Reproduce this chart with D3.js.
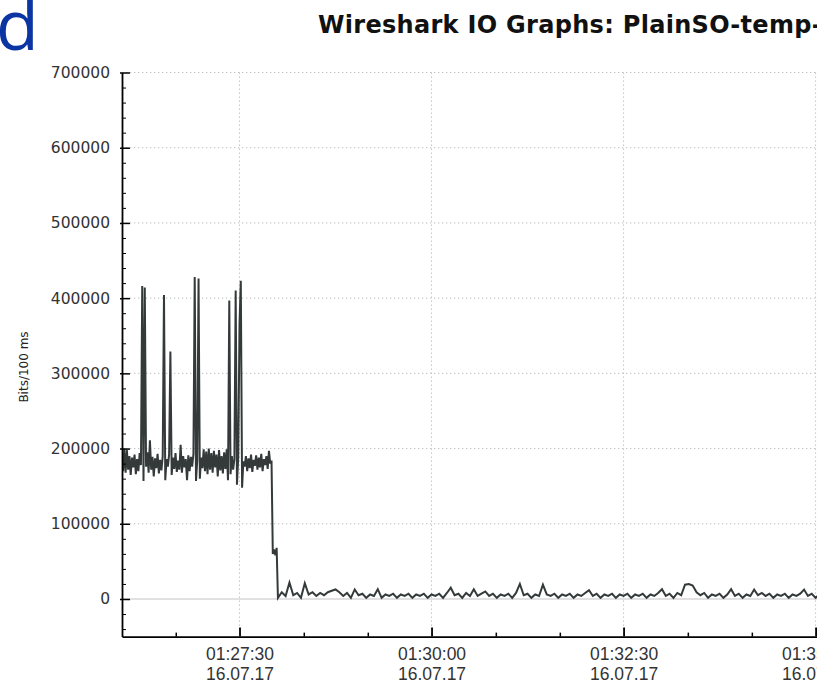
<!DOCTYPE html>
<html>
<head>
<meta charset="utf-8">
<script src="https://cdn.jsdelivr.net/npm/d3@7"></script>
<style>
  body { margin: 0; background: #fff; }
  svg { display: block; font-family: "DejaVu Sans", sans-serif; }
</style>
</head>
<body>
<div id="wrap"></div>
<script>
// values (bits per 100 ms)
const parseTime = d3.timeParse("%d.%m.%y %H:%M:%S");

// busy phase, one sample per second
const burstStart = "16.07.17 01:25:58";
const burstStep = 1;
const burstValues = [
  185000,170000,200000,168000,198000,172000,190000,165000,188000,175000,
  192000,166000,186000,170000,194000,178000,416000,157000,414000,176000,
  195000,168000,211000,172000,189000,163000,187000,174000,193000,167000,
  185000,171000,190000,404000,158000,186000,176000,192000,329000,165000,
  188000,173000,194000,169000,184000,172000,205000,168000,190000,175000,
  186000,158000,191000,170000,189000,176000,193000,428000,157000,185000,
  426000,160000,188000,174000,199000,170000,196000,166000,200000,172000,
  194000,168000,197000,175000,192000,163000,198000,171000,190000,167000,
  195000,173000,199000,158000,397000,166000,190000,172000,186000,410000,
  152000,188000,366000,423000,148000,183000,176000,190000,170000,187000,
  174000,192000,169000,185000,177000,191000,172000,188000,175000,193000,
  170000,186000,178000,190000,173000,197000,180000,184000,60000,66000,
  58000,68000
];

// idle phase, one sample every 3 seconds
const idleStart = "16.07.17 01:28:00";
const idleStep = 3;
const idleValues = [
  1500,9000,4000,22000,5000,8000,1500,21000,6000,9000,
  4000,8000,5000,9000,11000,12700,9000,4000,8000,1500,
  12700,5000,7000,1500,6000,4000,13000,1500,6000,4000,
  7000,1500,6000,4000,7000,1500,6000,4000,7000,1500,
  6000,4000,7000,1500,8000,15000,5000,7000,1500,8000,
  4000,13000,4000,7000,10000,4000,7000,1500,6000,4000,
  7000,1500,8000,20000,5000,7000,1500,6000,4000,19000,
  6000,4000,7000,1500,6000,4000,7000,1500,6000,4000,
  8000,11800,4000,7000,1500,6000,4000,7000,1500,6000,
  4000,7000,1500,6000,4000,7000,1500,6000,4000,8000,
  13000,4000,7000,1500,8000,5000,19000,20000,18000,9000,
  5000,8000,1500,6000,4000,7000,1500,6000,13000,4000,
  7000,1500,6000,4000,12500,5000,8000,4000,7000,1500,
  6000,4000,7000,1500,6000,4000,7000,12500,4000,7000,
  1500,6000,4000,8000,1500,6000,4000
];

const xTicks = ["16.07.17 01:27:30", "16.07.17 01:30:00", "16.07.17 01:32:30", "16.07.17 01:35:00"];
const yTicks = [0, 100000, 200000, 300000, 400000, 500000, 600000, 700000];
const yMinorStep = 20000;
const xMinorStep = 50; // seconds

const titleText = "Wireshark IO Graphs: PlainSO-temp-";
const yLabel = "Bits/100 ms";
const panelLetter = "d";

// build the series
function series(start, step, vals) {
  const t0 = parseTime(start).getTime();
  return vals.map((v, i) => ({ t: new Date(t0 + i * step * 1000), v: v }));
}
const data = series(burstStart, burstStep, burstValues)
  .concat(series(idleStart, idleStep, idleValues));

const W = 817, H = 683;
const plot = { left: 122, top: 72.5, bottom: 636.6, right: 854 };

const svg = d3.select("#wrap").append("svg")
  .attr("width", W)
  .attr("height", H);

const xStart = new Date(parseTime(burstStart).getTime() + 200);
const xEnd = parseTime("16.07.17 01:35:30");
const x = d3.scaleTime().domain([xStart, xEnd]).range([plot.left, plot.right]);
const y = d3.scaleLinear().domain([-50000, 700000]).range([plot.bottom, plot.top]);

// grid
const grid = svg.append("g");
grid.selectAll(".gy")
  .data(yTicks.filter(d => d !== 0))
  .enter().append("line")
  .attr("x1", plot.left).attr("x2", W)
  .attr("y1", d => y(d)).attr("y2", d => y(d))
  .attr("stroke", "#bdbdbd").attr("stroke-width", 1)
  .attr("stroke-dasharray", "1.3,2.7");
grid.selectAll(".gx")
  .data(xTicks.map(parseTime))
  .enter().append("line")
  .attr("x1", d => x(d)).attr("x2", d => x(d))
  .attr("y1", plot.top).attr("y2", plot.bottom)
  .attr("stroke", "#bdbdbd").attr("stroke-width", 1)
  .attr("stroke-dasharray", "1.3,2.7");
// zero line
grid.append("line")
  .attr("x1", plot.left).attr("x2", W)
  .attr("y1", y(0)).attr("y2", y(0))
  .attr("stroke", "#c4c4c4").attr("stroke-width", 1.2);

// the graph line
svg.append("clipPath").attr("id", "clip")
  .append("rect")
  .attr("x", plot.left + 1).attr("y", plot.top - 20)
  .attr("width", W).attr("height", plot.bottom - plot.top + 20);

const line = d3.line()
  .x(d => x(d.t))
  .y(d => y(d.v));

svg.append("path")
  .datum(data)
  .attr("clip-path", "url(#clip)")
  .attr("fill", "none")
  .attr("stroke", "#343a3a")
  .attr("stroke-width", 2)
  .attr("stroke-linejoin", "miter")
  .attr("d", line);

// y axis
const yAxis = svg.append("g")
  .attr("transform", "translate(" + plot.left + ",0)")
  .call(d3.axisLeft(y).tickValues(yTicks).tickFormat(d3.format("d"))
    .tickSizeInner(2).tickSizeOuter(0).tickPadding(10));
yAxis.selectAll(".tick").append("line")
  .attr("x1", 0).attr("x2", 8).attr("stroke", "#000").attr("stroke-width", 1.5);
svg.append("g")
  .attr("transform", "translate(" + plot.left + ",0)")
  .call(d3.axisLeft(y).tickValues(d3.range(-40000, 700001, yMinorStep).filter(v => v % 100000 !== 0))
    .tickSizeInner(-4).tickSizeOuter(0).tickFormat(""))
  .call(g => g.select(".domain").remove());
yAxis.select(".domain").attr("stroke", "#000").attr("stroke-width", 1.8);
yAxis.selectAll(".tick line").attr("stroke", "#000").attr("stroke-width", 1.5);
yAxis.selectAll("text")
  .attr("font-family", "DejaVu Sans")
  .attr("font-size", 15.5)
  .attr("fill", "#333");

// x axis
const xAxis = svg.append("g")
  .attr("transform", "translate(0," + plot.bottom + ")")
  .call(d3.axisBottom(x).tickValues(xTicks.map(parseTime))
    .tickSizeInner(-9).tickSizeOuter(0).tickFormat(""));
const minorX = d3.range(xStart.getTime(), xEnd.getTime(), 1000)
  .filter(ms => Math.round(ms / 1000) % xMinorStep === 0 && Math.round(ms / 1000) % 150 !== 0)
  .map(ms => new Date(ms));
svg.append("g")
  .attr("transform", "translate(0," + plot.bottom + ")")
  .call(d3.axisBottom(x).tickValues(minorX).tickSizeInner(-4).tickSizeOuter(0).tickFormat(""))
  .call(g => g.select(".domain").remove())
  .selectAll("line").attr("stroke", "#000").attr("stroke-width", 1.5);
xAxis.select(".domain").attr("stroke", "#000").attr("stroke-width", 1.8);
xAxis.selectAll(".tick line").attr("stroke", "#000").attr("stroke-width", 1.8);

const fmtTime = d3.timeFormat("%H:%M:%S");
const fmtDay = d3.timeFormat("%d.%m.%y");
const lab = xAxis.selectAll(".tick").append("text")
  .attr("fill", "#333")
  .attr("font-size", 17.5)
  .attr("text-anchor", "middle");
lab.append("tspan").attr("x", 0).attr("y", 23.8).text(d => fmtTime(d));
lab.append("tspan").attr("x", 0).attr("y", 43.8).text(d => fmtDay(d));

// y label
svg.append("text")
  .attr("transform", "translate(28,367) rotate(-90)")
  .attr("text-anchor", "middle")
  .attr("font-size", 12)
  .attr("fill", "#222")
  .text(yLabel);

// title
svg.append("text")
  .attr("x", 318).attr("y", 33)
  .attr("font-size", 24)
  .attr("font-weight", "bold")
  .attr("letter-spacing", 0.3)
  .attr("fill", "#111")
  .text(titleText);

// panel letter
svg.append("text")
  .attr("x", -4).attr("y", 50)
  .attr("font-family", "Open Sans")
  .attr("font-size", 70)
  .attr("fill", "#0b35a3")
  .text(panelLetter);
</script>
</body>
</html>
